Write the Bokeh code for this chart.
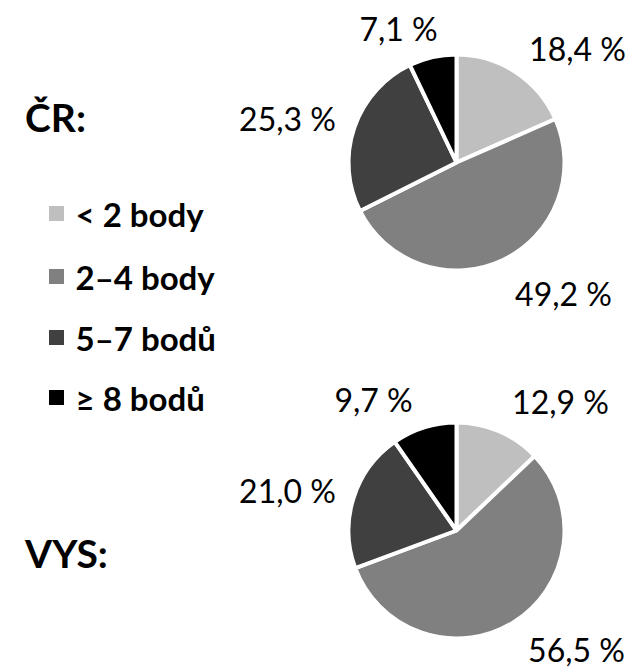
import math
from bokeh.plotting import figure
from bokeh.models import Range1d, ColumnDataSource
from bokeh.core.properties import value
from bokeh.embed import file_html
from bokeh.resources import INLINE

# ---- data ----
categories = ["< 2 body", "2–4 body", "5–7 bodů", "≥ 8 bodů"]
colors = ["#bfbfbf", "#808080", "#404040", "#000000"]
cr_values = [18.4, 49.2, 25.3, 7.1]
vys_values = [12.9, 56.5, 21.0, 9.7]
group_titles = ["ČR:", "VYS:"]

W, H = 633, 670
FONT = "Lato"

p = figure(width=W, height=H, x_range=Range1d(0, W), y_range=Range1d(0, H),
           output_backend="svg", toolbar_location=None, min_border=0)
p.axis.visible = False
p.grid.visible = False
p.outline_line_color = None
p.background_fill_color = "white"
p.border_fill_color = "white"


def px(x):
    return x


def py(y):
    return H - y


def fmt(v):
    return f"{v:.1f}".replace(".", ",") + " %"


R = 108
pies = [
    # values, centre (page px), label centres (page px), title centre
    (cr_values, (456, 162), [(577, 48), (563, 293), (287, 118), (398, 28)], (55, 116)),
    (vys_values, (456, 530), [(560, 401), (576, 649), (287, 490), (373, 399)], (66, 552)),
]

for (vals, (cx, cy), lab_pos, tpos), title in zip(pies, group_titles):
    total = sum(vals)
    cum = 0.0
    starts, ends = [], []
    for v in vals:
        a0 = math.pi / 2 - 2 * math.pi * (cum + v) / total
        a1 = math.pi / 2 - 2 * math.pi * cum / total
        starts.append(a0)
        ends.append(a1)
        cum += v
    src = ColumnDataSource(dict(x=[px(cx)] * len(vals), y=[py(cy)] * len(vals),
                                start=starts, end=ends, color=colors))
    p.wedge(x="x", y="y", radius=R, start_angle="start", end_angle="end",
            fill_color="color", line_color="white", line_width=4, source=src)
    lsrc = ColumnDataSource(dict(x=[px(a) for a, b in lab_pos], y=[py(b) for a, b in lab_pos],
                                 t=[fmt(v) for v in vals]))
    p.text(x="x", y="y", text="t", source=lsrc, text_font=value(FONT),
           text_font_size="32px", text_align="center", text_baseline="middle",
           text_color="black")
    p.text(x=[px(tpos[0])], y=[py(tpos[1])], text=[title], text_font=value(FONT),
           text_font_size="39px", text_font_style="bold", text_align="center",
           text_baseline="middle", text_color="black")

# ---- legend ----
leg_y = [213, 276, 337, 397]
p.scatter(x=[px(56)] * 4, y=[py(v) for v in leg_y], marker="square", size=15,
          fill_color=colors, line_color=None)
p.text(x=[px(75)] * 4, y=[py(v) for v in leg_y], text=categories, text_font=value(FONT),
       text_font_size="33px", text_font_style="bold", text_align="left",
       text_baseline="middle", text_color="black")

open("out.html", "w").write(file_html(p, INLINE))
